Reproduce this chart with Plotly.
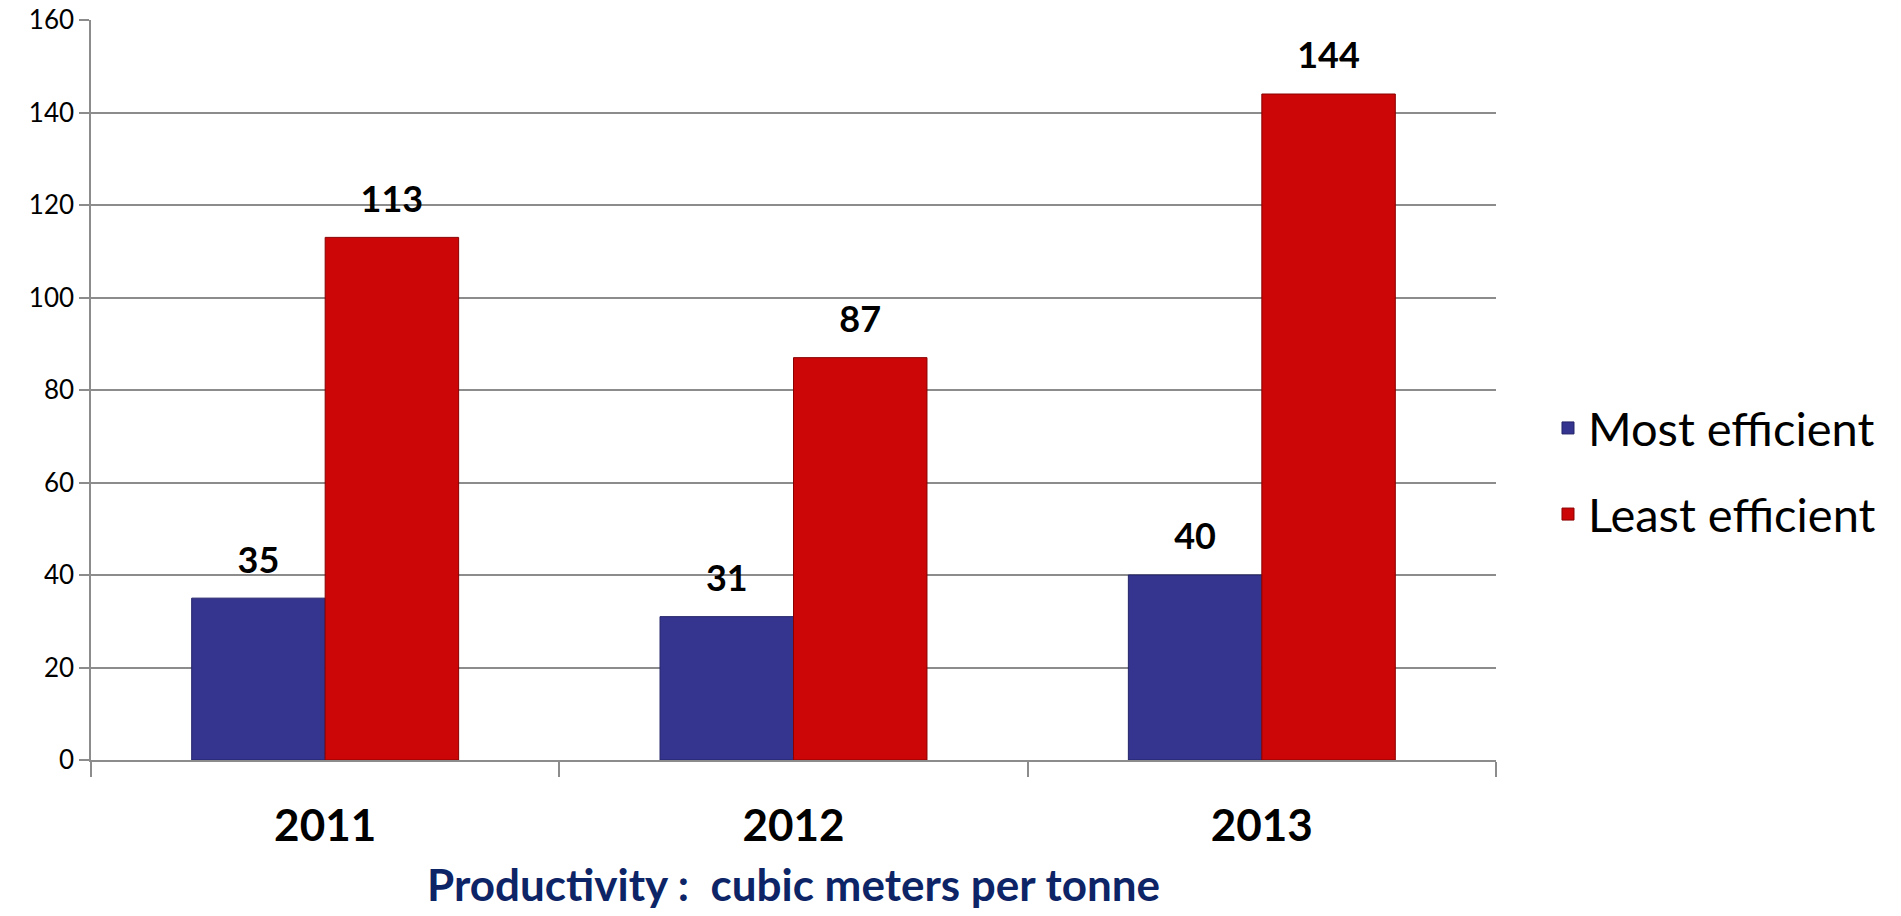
import plotly.graph_objects as go

years = ["2011", "2012", "2013"]
most_efficient = [35, 31, 40]
least_efficient = [113, 87, 144]
series_names = ["Most efficient", "Least efficient"]
y_ticks = [0, 20, 40, 60, 80, 100, 120, 140, 160]
x_title = "Productivity :  cubic meters per tonne"

BLUE = "#35358f"
BLUE_EDGE = "#23236a"
RED = "#cc0606"
RED_EDGE = "#8a0000"
GRID = "#8c8c8c"
FONT = "Lato"

fig = go.Figure()
for name, vals, col, edge, grp in [
    (series_names[0], most_efficient, BLUE, BLUE_EDGE, "a"),
    (series_names[1], least_efficient, RED, RED_EDGE, "b"),
]:
    fig.add_trace(go.Bar(
        x=years, y=vals, name=name, offsetgroup=grp, legendgroup=grp,
        marker=dict(color=col, line=dict(color=edge, width=1)),
    ))
for vals, grp in [(most_efficient, "a"), (least_efficient, "b")]:
    fig.add_trace(go.Scatter(
        x=years, y=vals, offsetgroup=grp, mode="markers+text",
        text=[str(v) for v in vals], textposition="top center",
        marker=dict(size=25, opacity=0), showlegend=False, hoverinfo="skip",
        textfont=dict(family=FONT, size=36, color="#000000", weight="bold"),
        cliponaxis=False,
    ))

fig.update_layout(
    template="none",
    width=1901, height=916,
    margin=dict(l=91, r=405, t=20, b=156, autoexpand=False),
    paper_bgcolor="white", plot_bgcolor="white",
    barmode="group", bargap=0.43, bargroupgap=0,
    scattermode="group", scattergap=0.43,
    font=dict(family=FONT, color="#000000"),
    showlegend=True,
    legend=dict(
        x=1.037, xanchor="left", y=0.39, yanchor="middle",
        font=dict(family=FONT, size=47, color="#000000"),
        tracegroupgap=22, bgcolor="rgba(0,0,0,0)", borderwidth=0,
    ),
    xaxis=dict(
        type="category", showgrid=False, showline=True, linecolor=GRID, linewidth=1.5,
        ticks="outside", tickson="boundaries", ticklen=15, tickcolor=GRID, tickwidth=1.5,
        tickfont=dict(family=FONT, size=44, color="#000000", weight="bold"),
        ticklabelstandoff=26, automargin=False, zeroline=False,
    ),
    yaxis=dict(
        range=[0, 160], tickvals=y_ticks, showgrid=True, gridcolor=GRID, gridwidth=1.5,
        showline=True, linecolor=GRID, linewidth=1.5, zeroline=False,
        ticks="outside", ticklen=10, tickcolor=GRID, tickwidth=1.5,
        tickfont=dict(family=FONT, size=26, color="#000000"), automargin=False,
    ),
    annotations=[dict(
        text=x_title, xref="paper", yref="paper", x=0.5, y=-0.168,
        xanchor="center", yanchor="middle", showarrow=False,
        font=dict(family=FONT, size=44, color="#0d2466", weight="bold"),
    )],
)

fig.write_html("out.html", config={"displayModeBar": False},
               post_script="document.body.style.margin='0';")
